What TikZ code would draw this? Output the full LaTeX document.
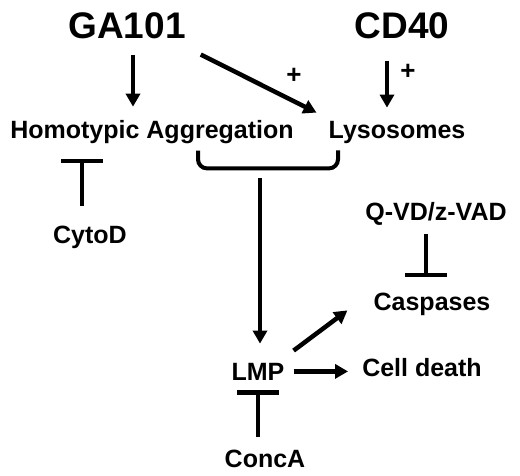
\documentclass[tikz,border=0pt]{standalone}
\usepackage{fontspec}
\setmainfont{Liberation Sans}
\usetikzlibrary{arrows.meta}

\begin{document}
\begin{tikzpicture}[x=1pt,y=-1pt,
    lbl/.style={font=\bfseries\fontsize{25}{30}\selectfont, inner sep=0pt, anchor=base},
    big/.style={font=\bfseries\fontsize{37}{44}\selectfont, inner sep=0pt, anchor=base},
    plus/.style={font=\bfseries\fontsize{26}{30}\selectfont, inner sep=0pt},
    arr/.style={line width=4.5pt, -{Triangle[length=13pt,width=14pt]}},
    inh/.style={line width=4.5pt, -{Bar[width=42pt,line width=4.5pt]}}]
      \useasboundingbox (0,0) rectangle (520,475);
      \node[big] (ga) at (127,38) {GA101};
      \node[big] (cd) at (402,38) {CD40};
      \node[lbl] (homo) at (152,138) {Homotypic Aggregation};
      \node[lbl] (lyso) at (397,138) {Lysosomes};
      \node[lbl] (cyto) at (90,243) {CytoD};
      \node[lbl] (qvd) at (436,220) {Q-VD/z-VAD};
      \node[lbl] (casp) at (432,310) {Caspases};
      \node[lbl] (lmp) at (258,380) {LMP};
      \node[lbl] (death) at (422,376) {Cell death};
      \node[lbl] (conca) at (265,467) {ConcA};
      \draw[arr, shorten <=16pt, shorten >=13pt] ([xshift=6pt]ga.south) -- ([xshift=-19pt]homo.north);
      \draw[arr] ([shift={(15pt,-16pt)}]ga.south east) -- ([shift={(-12pt,8pt)}]lyso.north west) node[plus, pos=0.78, xshift=3pt, yshift=24pt] {+};
      \draw[arr, shorten <=22pt, shorten >=13pt] ([xshift=-15pt]cd.south) -- ([xshift=-10pt]lyso.north) node[plus, midway, xshift=21pt, yshift=8pt] {+};
      \draw[line width=4pt, rounded corners=9pt] ([xshift=46pt,yshift=-7pt]homo.south) |- ([xshift=-59pt,yshift=-25pt]lyso.south) -- ([xshift=-59pt,yshift=-7pt]lyso.south);
      \coordinate (join) at (260,168);
      \draw[arr, shorten <=10pt, shorten >=19pt] (join) -- ([xshift=2pt]lmp.north);
      \draw[arr] ([shift={(9pt,12pt)}]lmp.north east) -- ([shift={(-26pt,5pt)}]casp.south west);
      \draw[arr, shorten <=9pt, shorten >=14pt] (lmp.east) -- (death.west |- lmp.east);
      \draw[inh, shorten <=19pt, shorten >=15pt] ([xshift=-8pt]cyto.north) -- ([xshift=-70pt]homo.south);
      \draw[inh, shorten <=9pt, shorten >=15pt] ([xshift=-10pt]qvd.south) -- ([xshift=-6pt]casp.north);
      \draw[inh, shorten <=12pt, shorten >=10pt] ([xshift=-7pt]conca.north) -- (lmp.south);
\end{tikzpicture}
\end{document}
